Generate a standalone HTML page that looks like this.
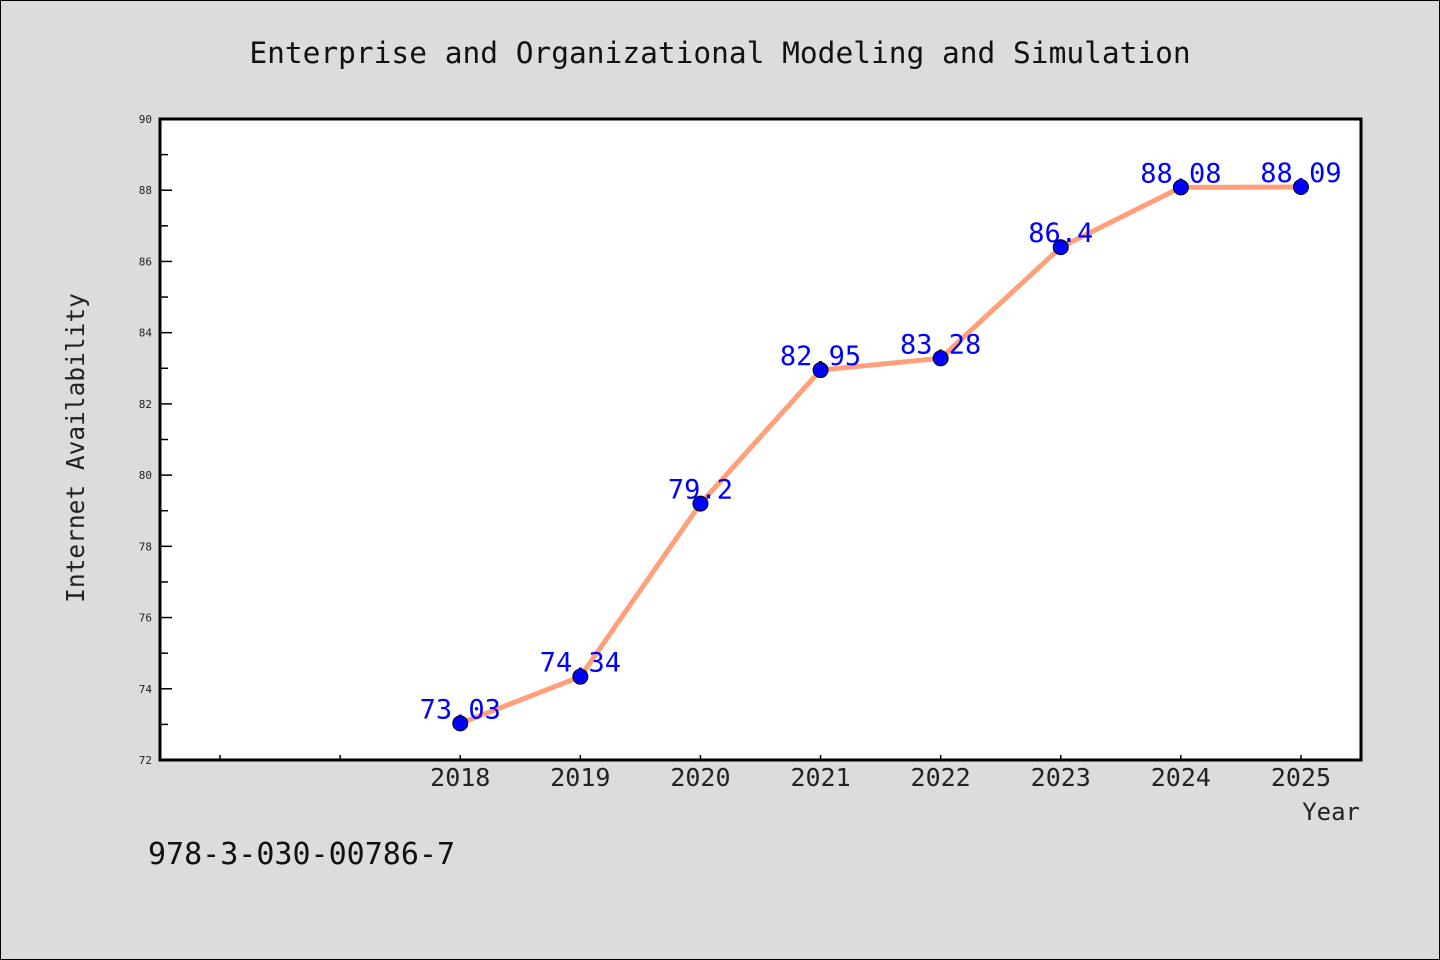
<!DOCTYPE html>
<html><head><meta charset="utf-8"><style>
html,body{margin:0;padding:0;background:#dcdcdc;}
svg{display:block;}
text{font-family:"WenQuanYi Zen Hei Mono","DejaVu Sans Mono","Liberation Mono",monospace;}
</style></head><body>
<svg id="chart" width="1440" height="960">
<rect x="0.5" y="0.5" width="1439" height="959" fill="#dcdcdc" stroke="#000"/>
<text x="720" y="63" text-anchor="middle" font-size="29.5" fill="#111">Enterprise and Organizational Modeling and Simulation</text>
<rect x="160" y="119" width="1201" height="641" fill="#fff"/>
<g id="axes"></g>
<g id="marks"></g>
<rect x="160" y="119" width="1201" height="641" fill="none" stroke="#000" stroke-width="3"/>
<text x="84" y="448" text-anchor="middle" font-size="24.5" fill="#222" transform="rotate(-90 84 448)">Internet Availability</text>
<text x="1360" y="820" text-anchor="end" font-size="24" fill="#222">Year</text>
<text x="148" y="864" font-size="30" fill="#111">978-3-030-00786-7</text>
</svg>
<script>
const years = [2018, 2019, 2020, 2021, 2022, 2023, 2024, 2025];
const values = [73.03, 74.34, 79.2, 82.95, 83.28, 86.4, 88.08, 88.09];
const valueLabels = ["73.03", "74.34", "79.2", "82.95", "83.28", "86.4", "88.08", "88.09"];
const yTicks = [72, 74, 76, 78, 80, 82, 84, 86, 88, 90];
const xTicks = [2016, 2017, 2018, 2019, 2020, 2021, 2022, 2023, 2024, 2025];

const NS = "http://www.w3.org/2000/svg";
const X0 = 160, X1 = 1361, Y0 = 760, Y1 = 119;
const xMin = 2015.5, xMax = 2025.5, yMin = 72, yMax = 90;
function xs(v){ return X0 + (v - xMin) / (xMax - xMin) * (X1 - X0); }
function ys(v){ return Y0 - (v - yMin) / (yMax - yMin) * (Y0 - Y1); }
function mk(tag, attrs, parent){ const e = document.createElementNS(NS, tag); for (const k in attrs) e.setAttribute(k, attrs[k]); parent.appendChild(e); return e; }
const axes = document.getElementById('axes'), marks = document.getElementById('marks');

yTicks.forEach((t, i) => {
  const y = ys(t);
  const tk = mk('line', {x1: X0, x2: X0 + 12, y1: y, y2: y, stroke: '#000', 'stroke-width': 1.5}, axes);
  
  
  const lb = mk('text', {x: 152, y: y + 4, 'text-anchor': 'end', 'font-size': 11, fill: '#222'}, axes);
  lb.textContent = t;
  
  
  if (i < yTicks.length - 1) {
    const m = ys(t + 1);
    const mt = mk('line', {x1: X0, x2: X0 + 8, y1: m, y2: m, stroke: '#000', 'stroke-width': 1.5}, axes);
    
    
  }
});
xTicks.forEach(t => {
  const x = xs(t);
  const tk = mk('line', {x1: x, x2: x, y1: Y0, y2: Y0 - 5, stroke: '#000', 'stroke-width': 1.5}, axes);
  
  
  if (years.includes(t)) {
    const lb = mk('text', {x: x, y: 786, 'text-anchor': 'middle', 'font-size': 25, fill: '#222'}, axes);
    lb.textContent = t;
    
    
  }
});
const pts = years.map((y, i) => xs(y) + ',' + ys(values[i])).join(' ');
const line = mk('polyline', {points: pts, fill: 'none', stroke: '#ffa07a', 'stroke-width': 5, 'stroke-linejoin': 'round'}, marks);


years.forEach((y, i) => {
  const lb = mk('text', {x: xs(y), y: ys(values[i]) - 5, 'text-anchor': 'middle', 'font-size': 27, fill: '#0000ff'}, marks);
  lb.textContent = valueLabels[i];
  
  
});
years.forEach((y, i) => {
  const c = mk('circle', {cx: xs(y), cy: ys(values[i]), r: 7.5, fill: '#0000ff', stroke: '#000', 'stroke-width': 1}, marks);
  
  
});
</script>
</body></html>
